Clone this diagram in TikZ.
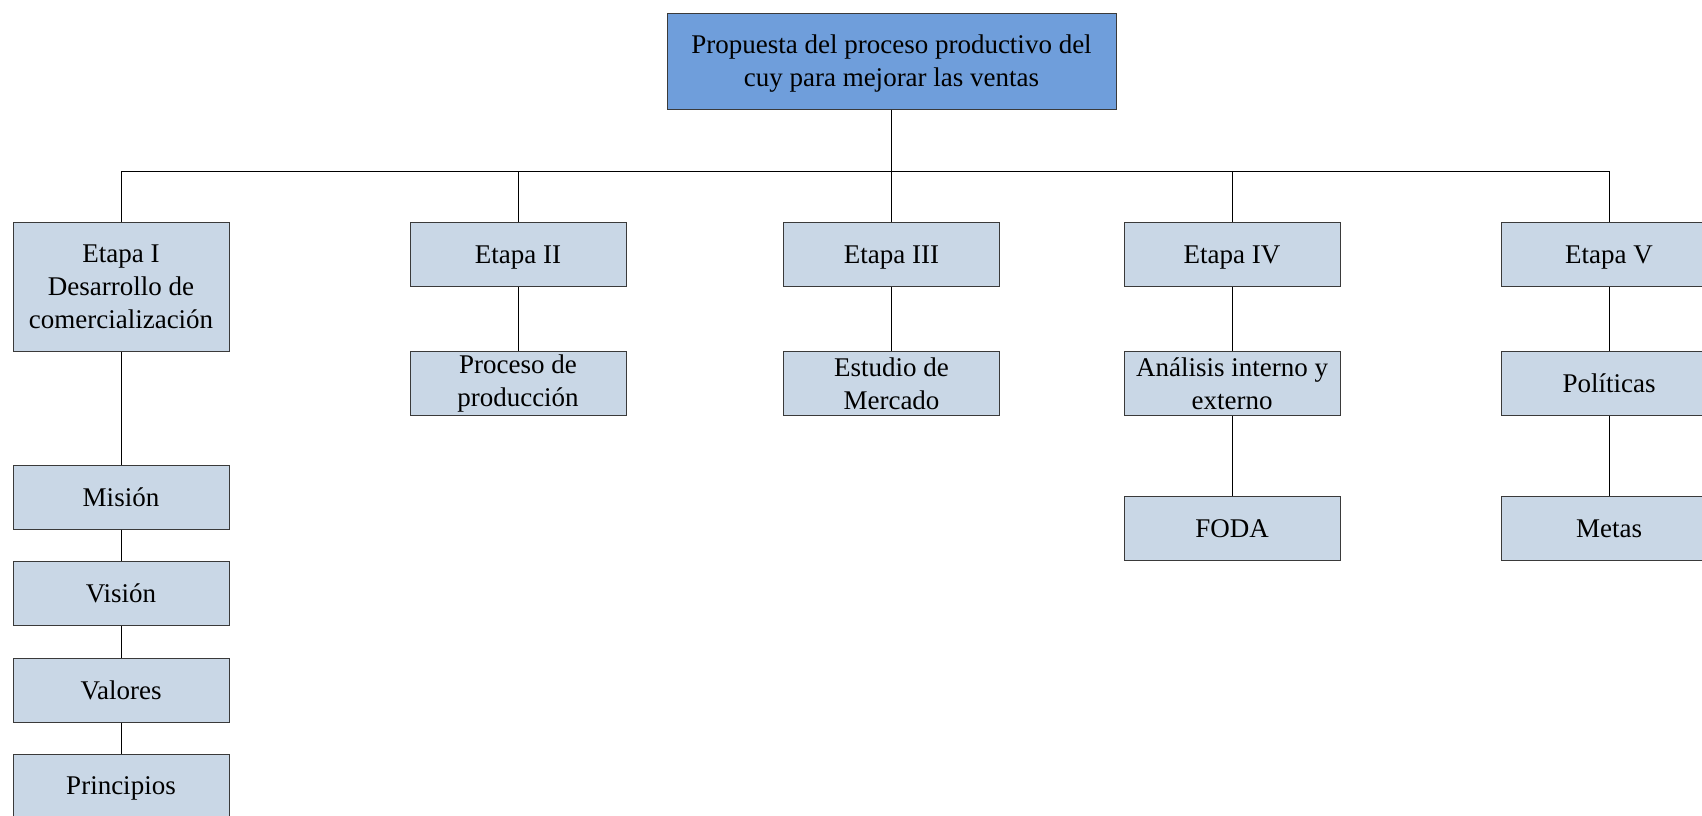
\documentclass[tikz,border=0pt]{standalone}
\usepackage{fontspec}
\setmainfont{Liberation Serif}
\definecolor{rootfill}{HTML}{6F9EDB}
\definecolor{boxfill}{HTML}{C9D7E6}
\definecolor{boxline}{HTML}{3A3A3A}
\begin{document}
\begin{tikzpicture}[x=1pt,y=1pt,
  every node/.style={font=\fontsize{27}{33}\selectfont},
  box/.style={draw=boxline, fill=boxfill, line width=1pt, align=center,
    inner sep=0pt, minimum width=216pt, minimum height=64pt},
  onebox/.style={box, text depth=0pt},
  rootbox/.style={box, fill=rootfill, minimum width=449pt, minimum height=96pt, text depth=0pt},
  tallbox/.style={box, minimum height=129pt},
  link/.style={draw=black, line width=1pt}]
\useasboundingbox (0,0) rectangle (1702,-815);
\clip (0,0) rectangle (1702,-815);

% root
\node[rootbox] (root) at (891.5,-61) {Propuesta del proceso productivo del\\cuy para mejorar las ventas};

% stages
\node[tallbox] (e1) at (121,-286.5) {Etapa I\\Desarrollo de\\comercialización};
\node[onebox] (e2) at (518,-254.5) {Etapa II};
\node[onebox] (e3) at (891.5,-254.5) {Etapa III};
\node[onebox] (e4) at (1232,-254.5) {Etapa IV};
\node[onebox] (e5) at (1609,-254.5) {Etapa V};

% second level
\node[box] (prod) at (518,-383.5) {Proceso de\\producción};
\node[box] (merc) at (891.5,-383.5) {Estudio de\\Mercado};
\node[box] (anal) at (1232,-383.5) {Análisis interno y\\externo};
\node[onebox] (pol) at (1609,-383.5) {Políticas};
\node[onebox] (foda) at (1232,-528.5) {FODA};
\node[onebox] (metas) at (1609,-528.5) {Metas};

% stage I column
\node[onebox] (mision) at (121,-497) {Misión};
\node[onebox] (vision) at (121,-593) {Visión};
\node[onebox] (valores) at (121,-690) {Valores};
\node[onebox] (princ) at (121,-786) {Principios};

% bus
\coordinate (busL) at (121,-171);
\coordinate (busR) at (1609,-171);
\draw[link] (busL) -- (busR);
\draw[link] (root.south) -- (root.south |- busL);
\foreach \n in {e1,e2,e3,e4,e5}
  \draw[link] (\n.north) -- (\n.north |- busL);

% vertical links
\draw[link] (e2) -- (prod);
\draw[link] (e3) -- (merc);
\draw[link] (e4) -- (anal);
\draw[link] (anal) -- (foda);
\draw[link] (e5) -- (pol);
\draw[link] (pol) -- (metas);
\draw[link] (e1) -- (mision);
\draw[link] (mision) -- (vision);
\draw[link] (vision) -- (valores);
\draw[link] (valores) -- (princ);
\end{tikzpicture}
\end{document}
